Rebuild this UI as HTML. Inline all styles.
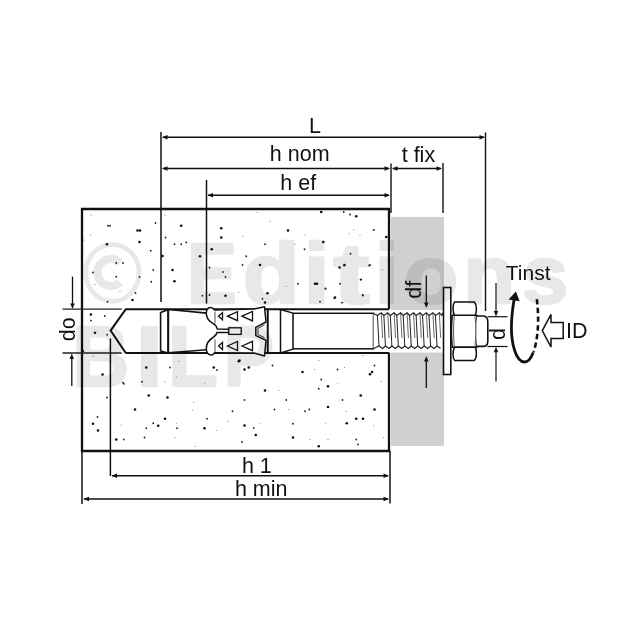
<!DOCTYPE html>
<html><head><meta charset="utf-8"><style>html,body{margin:0;padding:0;background:#fff;width:640px;height:640px;overflow:hidden}svg{display:block;will-change:transform}</style></head><body>
<svg width="640" height="640" viewBox="0 0 640 640"><rect x="391" y="217" width="53" height="229" fill="#d0d0d0"/>
<rect x="391" y="310" width="53" height="42.5" fill="#fff"/>
<g><circle cx="107.00" cy="244.25" r="1.30" fill="#111"/><circle cx="137.50" cy="230.50" r="1.30" fill="#111"/><circle cx="140.00" cy="230.50" r="1.30" fill="#111"/><circle cx="139.50" cy="242.00" r="1.30" fill="#111"/><circle cx="155.50" cy="223.00" r="0.90" fill="#222"/><circle cx="108.00" cy="225.75" r="0.90" fill="#222"/><circle cx="110.00" cy="225.75" r="0.90" fill="#222"/><circle cx="116.25" cy="263.00" r="0.90" fill="#222"/><circle cx="123.00" cy="263.00" r="0.90" fill="#222"/><circle cx="116.25" cy="276.75" r="0.90" fill="#222"/><circle cx="93.00" cy="272.50" r="0.90" fill="#222"/><circle cx="139.50" cy="277.00" r="0.90" fill="#222"/><circle cx="132.50" cy="300.00" r="1.30" fill="#111"/><circle cx="135.50" cy="293.00" r="0.90" fill="#222"/><circle cx="150.75" cy="250.75" r="0.90" fill="#222"/><circle cx="153.25" cy="270.00" r="0.90" fill="#222"/><circle cx="151.25" cy="281.75" r="0.90" fill="#222"/><circle cx="162.50" cy="256.00" r="1.30" fill="#111"/><circle cx="165.50" cy="237.50" r="0.90" fill="#222"/><circle cx="181.25" cy="225.75" r="1.30" fill="#111"/><circle cx="174.50" cy="244.25" r="0.90" fill="#222"/><circle cx="181.25" cy="244.25" r="0.90" fill="#222"/><circle cx="172.50" cy="270.00" r="1.30" fill="#111"/><circle cx="174.50" cy="281.25" r="1.30" fill="#111"/><circle cx="186.25" cy="242.50" r="0.90" fill="#222"/><circle cx="200.00" cy="256.25" r="1.30" fill="#111"/><circle cx="211.75" cy="249.25" r="1.30" fill="#111"/><circle cx="221.25" cy="228.25" r="1.30" fill="#111"/><circle cx="221.25" cy="237.50" r="1.30" fill="#111"/><circle cx="209.50" cy="267.50" r="0.90" fill="#222"/><circle cx="223.00" cy="272.00" r="0.90" fill="#222"/><circle cx="225.50" cy="277.00" r="0.90" fill="#222"/><circle cx="225.50" cy="295.75" r="1.30" fill="#111"/><circle cx="209.50" cy="295.00" r="0.90" fill="#222"/><circle cx="202.50" cy="295.75" r="0.90" fill="#222"/><circle cx="165.00" cy="215.00" r="0.60" fill="#777"/><circle cx="91.25" cy="215.00" r="0.60" fill="#777"/><circle cx="90.50" cy="235.00" r="0.60" fill="#777"/><circle cx="83.75" cy="240.00" r="0.60" fill="#777"/><circle cx="107.50" cy="301.75" r="0.90" fill="#222"/><circle cx="120.00" cy="291.25" r="0.60" fill="#777"/><circle cx="95.00" cy="284.50" r="0.60" fill="#777"/><circle cx="321.25" cy="212.00" r="1.30" fill="#111"/><circle cx="343.75" cy="212.00" r="0.90" fill="#222"/><circle cx="350.00" cy="214.50" r="0.90" fill="#222"/><circle cx="356.25" cy="216.25" r="1.30" fill="#111"/><circle cx="270.00" cy="221.25" r="0.60" fill="#777"/><circle cx="288.00" cy="230.50" r="1.30" fill="#111"/><circle cx="265.00" cy="244.25" r="0.90" fill="#222"/><circle cx="246.25" cy="256.25" r="0.90" fill="#222"/><circle cx="242.50" cy="265.00" r="0.90" fill="#222"/><circle cx="260.00" cy="265.00" r="1.30" fill="#111"/><circle cx="267.50" cy="293.25" r="1.30" fill="#111"/><circle cx="265.00" cy="302.50" r="1.30" fill="#111"/><circle cx="262.50" cy="298.75" r="0.90" fill="#222"/><circle cx="295.00" cy="244.25" r="0.60" fill="#777"/><circle cx="304.50" cy="249.25" r="0.90" fill="#222"/><circle cx="323.25" cy="242.00" r="1.30" fill="#111"/><circle cx="315.00" cy="283.75" r="1.30" fill="#111"/><circle cx="317.00" cy="283.75" r="1.30" fill="#111"/><circle cx="325.50" cy="288.75" r="0.90" fill="#222"/><circle cx="320.00" cy="301.75" r="0.90" fill="#222"/><circle cx="298.00" cy="283.75" r="0.90" fill="#222"/><circle cx="286.25" cy="286.25" r="0.60" fill="#777"/><circle cx="339.50" cy="267.50" r="1.30" fill="#111"/><circle cx="344.50" cy="265.00" r="1.30" fill="#111"/><circle cx="350.50" cy="253.75" r="0.90" fill="#222"/><circle cx="340.00" cy="283.75" r="0.90" fill="#222"/><circle cx="335.00" cy="297.50" r="1.30" fill="#111"/><circle cx="361.25" cy="279.50" r="0.90" fill="#222"/><circle cx="363.00" cy="295.50" r="0.90" fill="#222"/><circle cx="370.00" cy="265.00" r="0.90" fill="#222"/><circle cx="373.75" cy="230.00" r="0.90" fill="#222"/><circle cx="386.25" cy="237.00" r="1.30" fill="#111"/><circle cx="353.75" cy="230.00" r="0.60" fill="#777"/><circle cx="360.00" cy="235.00" r="0.60" fill="#777"/><circle cx="305.00" cy="235.00" r="0.60" fill="#777"/><circle cx="242.50" cy="236.25" r="0.60" fill="#777"/><circle cx="257.50" cy="212.50" r="0.60" fill="#777"/><circle cx="238.75" cy="292.50" r="0.60" fill="#777"/><circle cx="343.75" cy="302.50" r="0.60" fill="#777"/><circle cx="382.50" cy="270.00" r="0.60" fill="#777"/><circle cx="102.50" cy="374.50" r="1.30" fill="#111"/><circle cx="146.25" cy="367.50" r="1.30" fill="#111"/><circle cx="170.00" cy="367.50" r="0.90" fill="#222"/><circle cx="178.75" cy="361.25" r="0.60" fill="#777"/><circle cx="213.75" cy="367.50" r="1.30" fill="#111"/><circle cx="217.00" cy="370.00" r="0.90" fill="#222"/><circle cx="238.75" cy="361.25" r="1.30" fill="#111"/><circle cx="142.00" cy="381.75" r="0.90" fill="#222"/><circle cx="123.75" cy="383.75" r="0.90" fill="#222"/><circle cx="165.00" cy="381.75" r="0.60" fill="#777"/><circle cx="176.25" cy="377.00" r="0.60" fill="#777"/><circle cx="205.00" cy="383.75" r="0.60" fill="#777"/><circle cx="107.00" cy="397.50" r="0.90" fill="#222"/><circle cx="148.75" cy="395.50" r="1.30" fill="#111"/><circle cx="167.50" cy="397.50" r="1.30" fill="#111"/><circle cx="135.00" cy="409.50" r="1.30" fill="#111"/><circle cx="193.75" cy="402.50" r="0.60" fill="#777"/><circle cx="232.50" cy="411.25" r="0.90" fill="#222"/><circle cx="97.50" cy="417.00" r="0.90" fill="#222"/><circle cx="93.00" cy="423.75" r="1.30" fill="#111"/><circle cx="98.00" cy="430.50" r="1.30" fill="#111"/><circle cx="165.00" cy="418.75" r="1.30" fill="#111"/><circle cx="153.25" cy="423.25" r="0.90" fill="#222"/><circle cx="158.25" cy="425.75" r="1.30" fill="#111"/><circle cx="146.25" cy="428.25" r="0.90" fill="#222"/><circle cx="176.25" cy="423.25" r="0.60" fill="#777"/><circle cx="177.00" cy="428.25" r="0.90" fill="#222"/><circle cx="207.00" cy="418.75" r="0.90" fill="#222"/><circle cx="204.50" cy="428.25" r="1.30" fill="#111"/><circle cx="216.25" cy="430.50" r="0.60" fill="#777"/><circle cx="116.25" cy="439.50" r="1.30" fill="#111"/><circle cx="123.75" cy="439.50" r="0.90" fill="#222"/><circle cx="144.50" cy="437.50" r="0.90" fill="#222"/><circle cx="175.00" cy="437.50" r="0.60" fill="#777"/><circle cx="195.50" cy="446.25" r="0.60" fill="#777"/><circle cx="228.00" cy="421.25" r="0.60" fill="#777"/><circle cx="121.25" cy="425.00" r="0.60" fill="#777"/><circle cx="192.50" cy="410.00" r="0.60" fill="#777"/><circle cx="239.50" cy="360.50" r="1.30" fill="#111"/><circle cx="244.50" cy="369.50" r="1.30" fill="#111"/><circle cx="248.75" cy="367.50" r="1.30" fill="#111"/><circle cx="272.50" cy="365.50" r="0.90" fill="#222"/><circle cx="302.50" cy="372.00" r="1.30" fill="#111"/><circle cx="318.75" cy="360.50" r="0.60" fill="#777"/><circle cx="314.50" cy="369.50" r="0.60" fill="#777"/><circle cx="337.50" cy="369.50" r="0.90" fill="#222"/><circle cx="344.50" cy="367.50" r="0.60" fill="#777"/><circle cx="362.50" cy="355.50" r="0.60" fill="#777"/><circle cx="374.50" cy="365.50" r="0.90" fill="#222"/><circle cx="370.00" cy="374.25" r="1.30" fill="#111"/><circle cx="372.00" cy="372.00" r="1.30" fill="#111"/><circle cx="265.00" cy="390.50" r="1.30" fill="#111"/><circle cx="278.75" cy="390.50" r="0.60" fill="#777"/><circle cx="321.25" cy="379.50" r="0.90" fill="#222"/><circle cx="328.00" cy="386.25" r="1.30" fill="#111"/><circle cx="318.75" cy="388.75" r="0.90" fill="#222"/><circle cx="337.50" cy="383.75" r="0.60" fill="#777"/><circle cx="381.25" cy="381.25" r="0.60" fill="#777"/><circle cx="244.50" cy="400.00" r="0.90" fill="#222"/><circle cx="286.25" cy="400.00" r="0.90" fill="#222"/><circle cx="342.50" cy="400.00" r="0.90" fill="#222"/><circle cx="360.75" cy="395.50" r="1.30" fill="#111"/><circle cx="274.50" cy="409.50" r="0.90" fill="#222"/><circle cx="288.75" cy="409.50" r="0.60" fill="#777"/><circle cx="305.00" cy="411.25" r="0.90" fill="#222"/><circle cx="309.25" cy="409.50" r="0.90" fill="#222"/><circle cx="328.00" cy="407.00" r="1.30" fill="#111"/><circle cx="346.25" cy="411.25" r="0.60" fill="#777"/><circle cx="374.50" cy="409.50" r="1.30" fill="#111"/><circle cx="356.25" cy="418.75" r="1.30" fill="#111"/><circle cx="363.00" cy="418.75" r="1.30" fill="#111"/><circle cx="244.50" cy="425.50" r="1.30" fill="#111"/><circle cx="253.75" cy="428.00" r="0.90" fill="#222"/><circle cx="260.00" cy="423.75" r="0.60" fill="#777"/><circle cx="293.00" cy="423.75" r="0.90" fill="#222"/><circle cx="325.50" cy="423.75" r="0.60" fill="#777"/><circle cx="346.75" cy="423.25" r="1.30" fill="#111"/><circle cx="373.75" cy="425.75" r="0.60" fill="#777"/><circle cx="255.75" cy="435.00" r="1.30" fill="#111"/><circle cx="293.00" cy="437.50" r="1.30" fill="#111"/><circle cx="310.00" cy="439.50" r="0.60" fill="#777"/><circle cx="328.00" cy="439.50" r="0.60" fill="#777"/><circle cx="356.25" cy="439.50" r="0.90" fill="#222"/><circle cx="318.75" cy="446.25" r="1.30" fill="#111"/><circle cx="358.00" cy="444.50" r="0.90" fill="#222"/><circle cx="242.00" cy="442.00" r="0.90" fill="#222"/><circle cx="383.75" cy="437.50" r="0.60" fill="#777"/><circle cx="90.90" cy="314.50" r="1.30" fill="#111"/><circle cx="104.80" cy="316.00" r="0.90" fill="#222"/><circle cx="90.90" cy="320.60" r="0.90" fill="#222"/><circle cx="95.00" cy="332.80" r="1.30" fill="#111"/><circle cx="107.20" cy="334.70" r="0.90" fill="#222"/><circle cx="83.40" cy="351.00" r="0.90" fill="#222"/><circle cx="93.50" cy="356.30" r="0.60" fill="#777"/><circle cx="123.00" cy="382.60" r="0.90" fill="#222"/><circle cx="344.00" cy="265.50" r="0.90" fill="#222"/><circle cx="369.20" cy="265.50" r="0.90" fill="#222"/><circle cx="360.50" cy="279.70" r="0.90" fill="#222"/><circle cx="325.50" cy="288.50" r="0.90" fill="#222"/><circle cx="362.70" cy="295.00" r="0.90" fill="#222"/><circle cx="334.20" cy="298.30" r="0.90" fill="#222"/><circle cx="341.90" cy="302.70" r="0.90" fill="#222"/><circle cx="349.50" cy="233.75" r="0.60" fill="#777"/><circle cx="374.70" cy="229.40" r="0.60" fill="#777"/></g>
<path d="M389,309.3 V209 H82 V451 H389 V352.8" fill="none" stroke="#111" stroke-width="2.3"/>
<line x1="125.50" y1="309.20" x2="389.00" y2="309.20" stroke="#111" stroke-width="1.90" />
<line x1="125.50" y1="353.00" x2="389.00" y2="353.00" stroke="#111" stroke-width="1.90" />
<line x1="62.50" y1="309.20" x2="121.80" y2="309.20" stroke="#222" stroke-width="1.30" />
<line x1="62.50" y1="353.00" x2="121.80" y2="353.00" stroke="#222" stroke-width="1.30" />
<polyline points="125.8,309.2 110.6,330.6 125.8,353" fill="none" stroke="#111" stroke-width="2"/>
<line x1="161.00" y1="132.00" x2="161.00" y2="302.00" stroke="#111" stroke-width="1.50" />
<line x1="206.50" y1="180.00" x2="206.50" y2="303.50" stroke="#111" stroke-width="1.50" />
<line x1="391.00" y1="163.50" x2="391.00" y2="213.00" stroke="#111" stroke-width="1.40" />
<line x1="443.00" y1="163.00" x2="443.00" y2="213.00" stroke="#111" stroke-width="1.40" />
<line x1="485.50" y1="132.50" x2="485.50" y2="311.00" stroke="#111" stroke-width="1.40" />
<line x1="163.00" y1="137.20" x2="484.00" y2="137.20" stroke="#111" stroke-width="1.50" />
<polygon points="162.00,137.20 167.50,135.00 167.50,139.40" fill="#111"/>
<polygon points="485.00,137.20 479.50,135.00 479.50,139.40" fill="#111"/>
<line x1="163.00" y1="168.50" x2="389.00" y2="168.50" stroke="#111" stroke-width="1.50" />
<polygon points="162.00,168.50 167.50,166.30 167.50,170.70" fill="#111"/>
<polygon points="390.00,168.50 384.50,166.30 384.50,170.70" fill="#111"/>
<line x1="393.00" y1="168.50" x2="441.00" y2="168.50" stroke="#111" stroke-width="1.50" />
<polygon points="392.00,168.50 397.50,166.30 397.50,170.70" fill="#111"/>
<polygon points="442.00,168.50 436.50,166.30 436.50,170.70" fill="#111"/>
<line x1="208.00" y1="195.30" x2="389.00" y2="195.30" stroke="#111" stroke-width="1.50" />
<polygon points="207.50,195.30 213.00,193.10 213.00,197.50" fill="#111"/>
<polygon points="390.00,195.30 384.50,193.10 384.50,197.50" fill="#111"/>
<line x1="110.40" y1="338.50" x2="110.40" y2="476.00" stroke="#111" stroke-width="1.50" />
<line x1="82.00" y1="451.00" x2="82.00" y2="504.00" stroke="#111" stroke-width="1.50" />
<line x1="390.00" y1="451.00" x2="390.00" y2="503.50" stroke="#111" stroke-width="1.50" />
<line x1="112.00" y1="475.80" x2="388.00" y2="475.80" stroke="#111" stroke-width="1.50" />
<polygon points="111.50,475.80 117.00,473.60 117.00,478.00" fill="#111"/>
<polygon points="389.00,475.80 383.50,473.60 383.50,478.00" fill="#111"/>
<line x1="84.00" y1="499.00" x2="388.00" y2="499.00" stroke="#111" stroke-width="1.50" />
<polygon points="83.50,499.00 89.00,496.80 89.00,501.20" fill="#111"/>
<polygon points="389.00,499.00 383.50,496.80 383.50,501.20" fill="#111"/>
<line x1="72.50" y1="276.60" x2="72.50" y2="305.00" stroke="#111" stroke-width="1.30" />
<polygon points="72.50,309.00 70.30,303.50 74.70,303.50" fill="#111"/>
<line x1="71.80" y1="386.00" x2="71.80" y2="357.00" stroke="#111" stroke-width="1.30" />
<polygon points="71.80,353.50 69.60,359.00 74.00,359.00" fill="#111"/>
<line x1="426.30" y1="275.60" x2="426.30" y2="303.00" stroke="#111" stroke-width="1.30" />
<polygon points="426.30,308.00 424.10,302.50 428.50,302.50" fill="#111"/>
<line x1="426.30" y1="388.00" x2="426.30" y2="361.00" stroke="#111" stroke-width="1.30" />
<polygon points="426.30,356.00 424.10,361.50 428.50,361.50" fill="#111"/>
<line x1="487.50" y1="316.70" x2="507.50" y2="316.70" stroke="#111" stroke-width="1.20" />
<line x1="487.50" y1="346.50" x2="507.50" y2="346.50" stroke="#111" stroke-width="1.20" />
<line x1="496.00" y1="283.00" x2="496.00" y2="312.00" stroke="#111" stroke-width="1.20" />
<polygon points="496.00,316.50 493.80,311.00 498.20,311.00" fill="#111"/>
<line x1="496.00" y1="381.50" x2="496.00" y2="351.00" stroke="#111" stroke-width="1.20" />
<polygon points="496.00,346.80 493.80,352.30 498.20,352.30" fill="#111"/>
<path d="M168.4,309.5 L206.9,313.1 M168.4,352.8 L206.9,349.8" stroke="#111" stroke-width="1.6" fill="none"/>
<path d="M168,309.8 L160.6,312.6 V350.9 L168,353 Z" fill="#fff" stroke="#111" stroke-width="1.6"/>
<line x1="168.40" y1="309.50" x2="168.40" y2="353.00" stroke="#111" stroke-width="1.60" />
<path d="M214.5,310 L254,309 L264.5,306.7 L266,322 L255.8,327.3 L255.8,335.6 L266,340.2 L264.5,356 L254,353 L214.5,352.8 C213.8,354.5 212.5,355.2 211,355 C208.5,354.8 206.4,352.5 206.3,348.5 C206.2,344 209,340 213,337.5 C215,336 216.8,334.5 217,332.4 L228.8,332.4 L228.8,329.2 L217.2,329 C216.8,326.5 215.5,324.8 213.6,323.8 C210,322 206.5,318 206.3,313.5 C206.2,309.5 208,307.6 210.4,307.4 C212,307.2 213.5,308.5 214.5,310 Z" fill="#fff" stroke="#111" stroke-width="1.5" stroke-linejoin="round"/>
<path d="M264.5,324.8 L258,328.4 L258,334.6 L264.5,337.6" fill="none" stroke="#222" stroke-width="0.9"/>
<line x1="215.00" y1="311.50" x2="215.00" y2="323.50" stroke="#888" stroke-width="1.40" />
<line x1="215.00" y1="339.50" x2="215.00" y2="352.00" stroke="#888" stroke-width="1.40" />
<polygon points="218.5,316.2 222.5,312.6 222.5,319.8" fill="none" stroke="#111" stroke-width="1.3"/>
<polygon points="227.5,316.2 237.5,311.7 237.5,320.7" fill="none" stroke="#111" stroke-width="1.3"/>
<polygon points="242.0,316.2 252.5,311.5 252.5,320.9" fill="none" stroke="#111" stroke-width="1.3"/>
<polygon points="218.5,346.0 222.5,342.4 222.5,349.6" fill="none" stroke="#111" stroke-width="1.3"/>
<polygon points="227.5,346.0 237.5,341.5 237.5,350.5" fill="none" stroke="#111" stroke-width="1.3"/>
<polygon points="242.0,346.0 252.5,341.3 252.5,350.7" fill="none" stroke="#111" stroke-width="1.3"/>
<rect x="228.8" y="327.8" width="12.4" height="6.6" fill="#fff" stroke="#111" stroke-width="1.3"/>
<path d="M266,308.8 L268,310 V352 L266,353.5" fill="none" stroke="#111" stroke-width="1.3"/>
<line x1="267.50" y1="309.50" x2="267.50" y2="353.00" stroke="#111" stroke-width="1.50" />
<line x1="280.50" y1="309.50" x2="280.50" y2="353.00" stroke="#111" stroke-width="1.50" />
<path d="M280.5,309.5 L293,313.2 M280.5,353 L293,349.2" stroke="#111" stroke-width="1.4" fill="none"/>
<rect x="293" y="313.3" width="80.5" height="35.5" fill="#fff" stroke="#111" stroke-width="1.5"/>
<rect x="373.5" y="313.5" width="69.5" height="35" fill="#fff"/>
<path d="M373.5,313.5 L377.40,315.5 L381.30,312.8 L383.85,315.5 L387.75,312.8 L390.30,315.5 L394.20,312.8 L396.75,315.5 L400.65,312.8 L403.20,315.5 L407.10,312.8 L409.65,315.5 L413.55,312.8 L416.10,315.5 L420.00,312.8 L422.55,315.5 L426.45,312.8 L429.00,315.5 L432.90,312.8 L435.45,315.5 L439.35,312.8 L441.90,315.5 L443.00,312.8" fill="none" stroke="#222" stroke-width="1.1"/>
<path d="M373.5,348.6 L379.00,346 L382.50,348.5 L385.45,346 L388.95,348.5 L391.90,346 L395.40,348.5 L398.35,346 L401.85,348.5 L404.80,346 L408.30,348.5 L411.25,346 L414.75,348.5 L417.70,346 L421.20,348.5 L424.15,346 L427.65,348.5 L430.60,346 L434.10,348.5 L437.05,346 L440.55,348.5" fill="none" stroke="#222" stroke-width="1.1"/>
<line x1="377.40" y1="315.50" x2="379.00" y2="346.00" stroke="#222" stroke-width="1.00" />
<line x1="381.30" y1="313.50" x2="382.60" y2="338.00" stroke="#444" stroke-width="0.80" />
<line x1="383.85" y1="315.50" x2="385.45" y2="346.00" stroke="#222" stroke-width="1.00" />
<line x1="387.75" y1="313.50" x2="389.05" y2="338.00" stroke="#444" stroke-width="0.80" />
<line x1="390.30" y1="315.50" x2="391.90" y2="346.00" stroke="#222" stroke-width="1.00" />
<line x1="394.20" y1="313.50" x2="395.50" y2="338.00" stroke="#444" stroke-width="0.80" />
<line x1="396.75" y1="315.50" x2="398.35" y2="346.00" stroke="#222" stroke-width="1.00" />
<line x1="400.65" y1="313.50" x2="401.95" y2="338.00" stroke="#444" stroke-width="0.80" />
<line x1="403.20" y1="315.50" x2="404.80" y2="346.00" stroke="#222" stroke-width="1.00" />
<line x1="407.10" y1="313.50" x2="408.40" y2="338.00" stroke="#444" stroke-width="0.80" />
<line x1="409.65" y1="315.50" x2="411.25" y2="346.00" stroke="#222" stroke-width="1.00" />
<line x1="413.55" y1="313.50" x2="414.85" y2="338.00" stroke="#444" stroke-width="0.80" />
<line x1="416.10" y1="315.50" x2="417.70" y2="346.00" stroke="#222" stroke-width="1.00" />
<line x1="420.00" y1="313.50" x2="421.30" y2="338.00" stroke="#444" stroke-width="0.80" />
<line x1="422.55" y1="315.50" x2="424.15" y2="346.00" stroke="#222" stroke-width="1.00" />
<line x1="426.45" y1="313.50" x2="427.75" y2="338.00" stroke="#444" stroke-width="0.80" />
<line x1="429.00" y1="315.50" x2="430.60" y2="346.00" stroke="#222" stroke-width="1.00" />
<line x1="432.90" y1="313.50" x2="434.20" y2="338.00" stroke="#444" stroke-width="0.80" />
<line x1="435.45" y1="315.50" x2="437.05" y2="346.00" stroke="#222" stroke-width="1.00" />
<line x1="439.35" y1="313.50" x2="440.65" y2="338.00" stroke="#444" stroke-width="0.80" />
<rect x="443.5" y="287.5" width="7.3" height="87" fill="#fff" stroke="#111" stroke-width="1.6"/>
<path d="M452.3,315.3 C451.2,325 451.2,337 452.3,347.2 H476.8 C477.9,337 477.9,325 476.8,315.3 Z" fill="#fff" stroke="#111" stroke-width="1.5"/>
<path d="M454.6,301.9 H474.3 C476.9,304.5 477,312 475.2,315.3 H454.6 C452.5,312 452.5,305 454.6,301.9 Z" fill="#fff" stroke="#111" stroke-width="1.5"/>
<path d="M454.6,347.2 H475.2 C477,350.5 476.9,358 474.3,360.4 H454.6 C452.5,357.5 452.5,350.5 454.6,347.2 Z" fill="#fff" stroke="#111" stroke-width="1.5"/>
<path d="M454.3,316 C453.3,326 453.3,336 454.3,346.5 M475,316 C476,326 476,336 475,346.5" stroke="#444" stroke-width="0.9" fill="none"/>
<path d="M477,316 H484 Q487.8,317 487.8,322 V341 Q487.8,346 484,346.4 H477" fill="#fff" stroke="#111" stroke-width="1.6"/>
<path d="M514,300 C511,318 510.5,338 514.5,350 C517,358 520.5,362 524.6,362 C528,362 531,358 532.8,353.5" fill="none" stroke="#111" stroke-width="2.8" stroke-linecap="round"/>
<path d="M536.8,299.2 C539,316 538.8,336 533.6,352" fill="none" stroke="#111" stroke-width="2.6" stroke-dasharray="5.3,3.4"/>
<polygon points="515.9,291.6 508.6,299.4 519.7,301.2" fill="#111"/>
<polygon points="542.3,330.7 551,314.4 551,322.4 563.2,322.4 563.2,338.6 551,338.6 551,347" stroke-linejoin="miter" fill="#fff" stroke="#111" stroke-width="1.5"/>
<text x="309.1" y="133.2" style="font-family:&quot;Liberation Sans&quot;,sans-serif;font-size:21.5px" fill="#111" >L</text>
<text x="269.8" y="161.3" style="font-family:&quot;Liberation Sans&quot;,sans-serif;font-size:21.5px" fill="#111" >h nom</text>
<text x="280.3" y="190.4" style="font-family:&quot;Liberation Sans&quot;,sans-serif;font-size:21.5px" fill="#111" >h ef</text>
<text x="401.7" y="161.6" style="font-family:&quot;Liberation Sans&quot;,sans-serif;font-size:21.5px" fill="#111" >t fix</text>
<text x="241.9" y="473.4" style="font-family:&quot;Liberation Sans&quot;,sans-serif;font-size:21.5px" fill="#111" >h 1</text>
<text x="234.9" y="495.8" style="font-family:&quot;Liberation Sans&quot;,sans-serif;font-size:21.5px" fill="#111" >h min</text>
<text x="505.8" y="280.0" style="font-family:&quot;Liberation Sans&quot;,sans-serif;font-size:21px" fill="#111" >Tinst</text>
<text x="566.0" y="337.8" style="font-family:&quot;Liberation Sans&quot;,sans-serif;font-size:21.5px" fill="#111" >ID</text>
<text transform="translate(75.3,341.3) rotate(-90)" style="font-family:&quot;Liberation Sans&quot;,sans-serif;font-size:21.5px" fill="#111">do</text>
<text transform="translate(420.8,298.8) rotate(-90)" style="font-family:&quot;Liberation Sans&quot;,sans-serif;font-size:21.5px" fill="#111">df</text>
<text transform="translate(505.1,339.9) rotate(-90)" style="font-family:&quot;Liberation Sans&quot;,sans-serif;font-size:21.5px" fill="#111">d</text>
<g style="mix-blend-mode:multiply;font-family:&quot;Liberation Sans&quot;,sans-serif;font-weight:bold;font-size:86px" fill="#e8e8e8" stroke="#e8e8e8" stroke-width="2.5" stroke-linejoin="round"><text transform="translate(187.10,302.50) scale(0.8671,1.000)">E</text><text transform="translate(242.84,302.50) scale(1.0800,1.000)">d</text><text transform="translate(303.75,302.50) scale(1.0840,1.000)">i</text><text transform="translate(333.36,302.50) scale(1.2707,1.000)">t</text><text transform="translate(374.63,302.50) scale(1.0036,1.000)">i</text><text transform="translate(403.80,302.50) scale(1.0401,0.955)">o</text><text transform="translate(463.14,302.50) scale(0.9880,0.940)">n</text><text transform="translate(522.29,302.50) scale(0.9595,0.955)">s</text><text transform="translate(72.39,386.00) scale(0.9117,1.000)">B</text><text transform="translate(135.98,386.00) scale(1.1153,1.000)">I</text><text transform="translate(167.94,386.00) scale(0.9456,1.000)">L</text><text transform="translate(223.53,386.00) scale(0.8814,1.000)">P</text></g>
<g style="mix-blend-mode:multiply" fill="none" stroke="#e8e8e8"><ellipse cx="112.45" cy="272.8" rx="26.6" ry="28.5" stroke-width="4.7"/><path d="M120.35,262.95 A13.5,13.5 0 1 0 120.35,282.05" stroke-width="8"/></g></svg>
</body></html>
